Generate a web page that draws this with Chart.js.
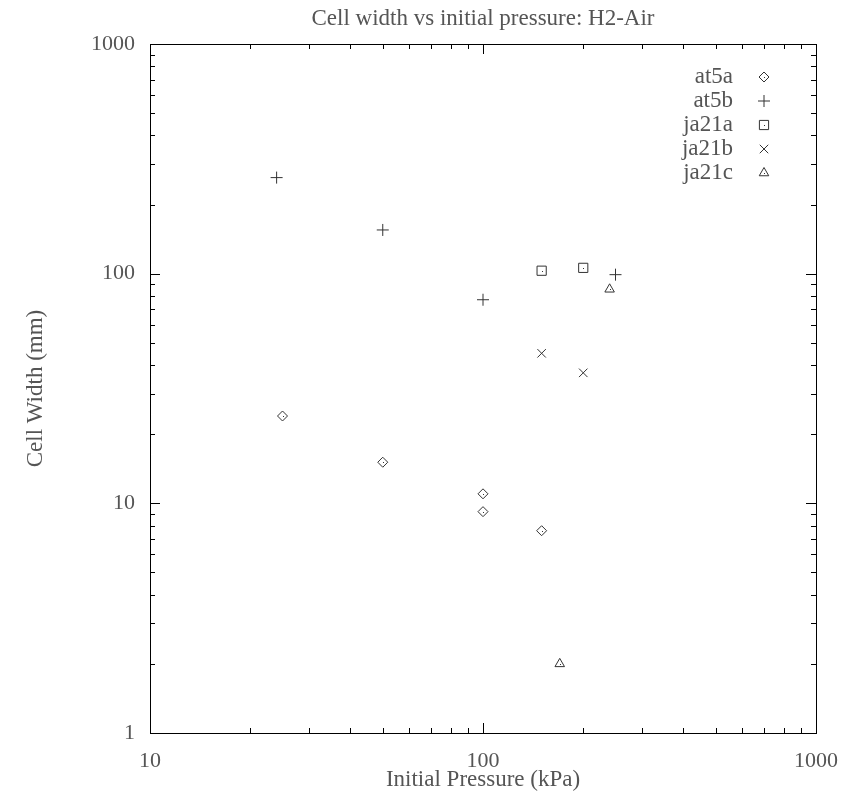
<!DOCTYPE html>
<html>
<head>
<meta charset="utf-8">
<script src="https://cdn.jsdelivr.net/npm/chart.js@4/dist/chart.umd.min.js"></script>
<style>
  html, body { margin: 0; padding: 0; background: #fff; }
  #wrap { width: 848px; height: 794px; }
</style>
</head>
<body>
<div id="wrap"><canvas id="cellChart" width="848" height="794"></canvas></div>
<script>
// cell width vs initial pressure, H2-Air

const seriesNames = ['at5a', 'at5b', 'ja21a', 'ja21b', 'ja21c'];
const pointStyles = ['rectRot', 'cross', 'rect', 'crossRot', 'triangle'];
const pointSizes = [5, 6, 6.5, 6, 5.5];

const at5aPressure = [25, 50, 100, 100, 150];
const at5aWidth = [24, 15.1, 11, 9.2, 7.6];
const at5bPressure = [24, 50, 100, 250];
const at5bWidth = [262, 155, 77, 99];
const ja21aPressure = [150, 200];
const ja21aWidth = [103, 106];
const ja21bPressure = [150, 200];
const ja21bWidth = [45, 37];
const ja21cPressure = [240, 170];
const ja21cWidth = [85.5, 2];

const xTickLabels = [10, 100, 1000];
const yTickLabels = [1, 10, 100, 1000];

const allPressure = [at5aPressure, at5bPressure, ja21aPressure, ja21bPressure, ja21cPressure];
const allWidth = [at5aWidth, at5bWidth, ja21aWidth, ja21bWidth, ja21cWidth];

const textColor = '#555';
const markColor = '#333';
const font = 'Liberation Serif';
const textSize = 23;
const tickSize = 22;

const datasets = seriesNames.map((name, i) => ({
  label: name,
  data: allPressure[i].map((p, j) => ({ x: p, y: allWidth[i][j] })),
  pointStyle: pointStyles[i],
  pointRadius: pointSizes[i],
  pointHoverRadius: pointSizes[i],
  borderColor: markColor,
  backgroundColor: 'rgba(0,0,0,0)',
  pointBorderWidth: 1,
  showLine: false
}));

// gnuplot-like box with inward ticks on all four sides, plus title and legend
const decorations = {
  id: 'decorations',
  afterDatasetsDraw(chart) {
    const c = chart.ctx;
    const a = chart.chartArea;
    const xs = chart.scales.x, ys = chart.scales.y;
    c.save();
    c.strokeStyle = '#000';
    c.lineWidth = 1;
    c.strokeRect(Math.round(a.left) + 0.5, Math.round(a.top) + 0.5,
      Math.round(a.right - a.left), Math.round(a.bottom - a.top));
    c.beginPath();
    for (let d = 10; d <= 1000; d *= 10) {
      for (let m = 1; m <= 9; m++) {
        const v = d * m;
        if (v >= 1000) break;
        const px = Math.round(xs.getPixelForValue(v)) + 0.5;
        const len = m === 1 ? 10 : 5;
        c.moveTo(px, a.bottom); c.lineTo(px, a.bottom - len);
        c.moveTo(px, a.top); c.lineTo(px, a.top + len);
      }
    }
    for (let d = 1; d <= 1000; d *= 10) {
      for (let m = 1; m <= 9; m++) {
        const v = d * m;
        if (v >= 1000) break;
        const py = Math.round(ys.getPixelForValue(v)) + 0.5;
        const len = m === 1 ? 10 : 5;
        c.moveTo(a.left, py); c.lineTo(a.left + len, py);
        c.moveTo(a.right, py); c.lineTo(a.right - len, py);
      }
    }
    c.stroke();

    // small centre dots like gnuplot point markers
    c.fillStyle = markColor;
    chart.data.datasets.forEach((ds, i) => {
      if (ds.pointStyle === 'cross' || ds.pointStyle === 'crossRot') return;
      chart.getDatasetMeta(i).data.forEach(el => {
        c.fillRect(Math.round(el.x), Math.round(el.y), 1, 1);
      });
    });

    // title
    c.fillStyle = textColor;
    c.font = textSize + 'px "' + font + '"';
    c.textAlign = 'center';
    c.textBaseline = 'middle';
    c.fillText('Cell width vs initial pressure: H2-Air', (a.left + a.right) / 2, 19);

    // legend, text right aligned with marker to the right
    c.textAlign = 'right';
    chart.data.datasets.forEach((ds, i) => {
      const y = 77 + i * 24;
      c.fillStyle = textColor;
      c.fillText(ds.label, 733, y);
      c.fillStyle = 'rgba(0,0,0,0)';
      c.strokeStyle = markColor;
      Chart.helpers.drawPoint(c, {
        pointStyle: ds.pointStyle,
        radius: ds.pointRadius,
        borderWidth: 1,
        rotation: 0
      }, 764, y);
      if (ds.pointStyle !== 'cross' && ds.pointStyle !== 'crossRot') {
        c.fillStyle = markColor;
        c.fillRect(764, y, 1, 1);
      }
    });
    c.restore();
  }
};

const ctx = document.getElementById('cellChart').getContext('2d');

new Chart(ctx, {
  type: 'scatter',
  data: { datasets: datasets },
  plugins: [decorations],
  options: {
    responsive: false,
    animation: false,
    events: [],
    layout: { padding: { top: 44, right: 32, left: 0, bottom: 0 } },
    plugins: {
      legend: { display: false },
      title: { display: false },
      tooltip: { enabled: false }
    },
    scales: {
      x: {
        type: 'logarithmic',
        min: 10,
        max: 1000,
        afterFit(scale) {
          scale.height = 61;
          scale.paddingLeft = 0;
          scale.paddingRight = 0;
        },
        grid: { display: false, drawTicks: false },
        border: { display: true, color: '#000', width: 1 },
        ticks: {
          color: textColor,
          font: { family: font, size: tickSize },
          padding: 15,
          autoSkip: false,
          maxRotation: 0,
          callback: v => xTickLabels.includes(v) ? String(v) : ''
        },
        title: {
          display: true,
          text: 'Initial Pressure (kPa)',
          color: textColor,
          font: { family: font, size: textSize },
          padding: { top: 0, bottom: 0 }
        }
      },
      y: {
        type: 'logarithmic',
        min: 1,
        max: 1000,
        afterFit(scale) {
          scale.width = 150;
          scale.paddingTop = 0;
          scale.paddingBottom = 0;
        },
        grid: { display: false, drawTicks: false },
        border: { display: true, color: '#000', width: 1 },
        ticks: {
          color: textColor,
          font: { family: font, size: tickSize },
          padding: 15,
          autoSkip: false,
          callback: v => yTickLabels.includes(v) ? String(v) : ''
        },
        title: {
          display: true,
          text: 'Cell Width (mm)',
          color: textColor,
          font: { family: font, size: textSize },
          padding: { top: 22, bottom: 0 }
        }
      }
    }
  },
});
</script>
</body>
</html>
